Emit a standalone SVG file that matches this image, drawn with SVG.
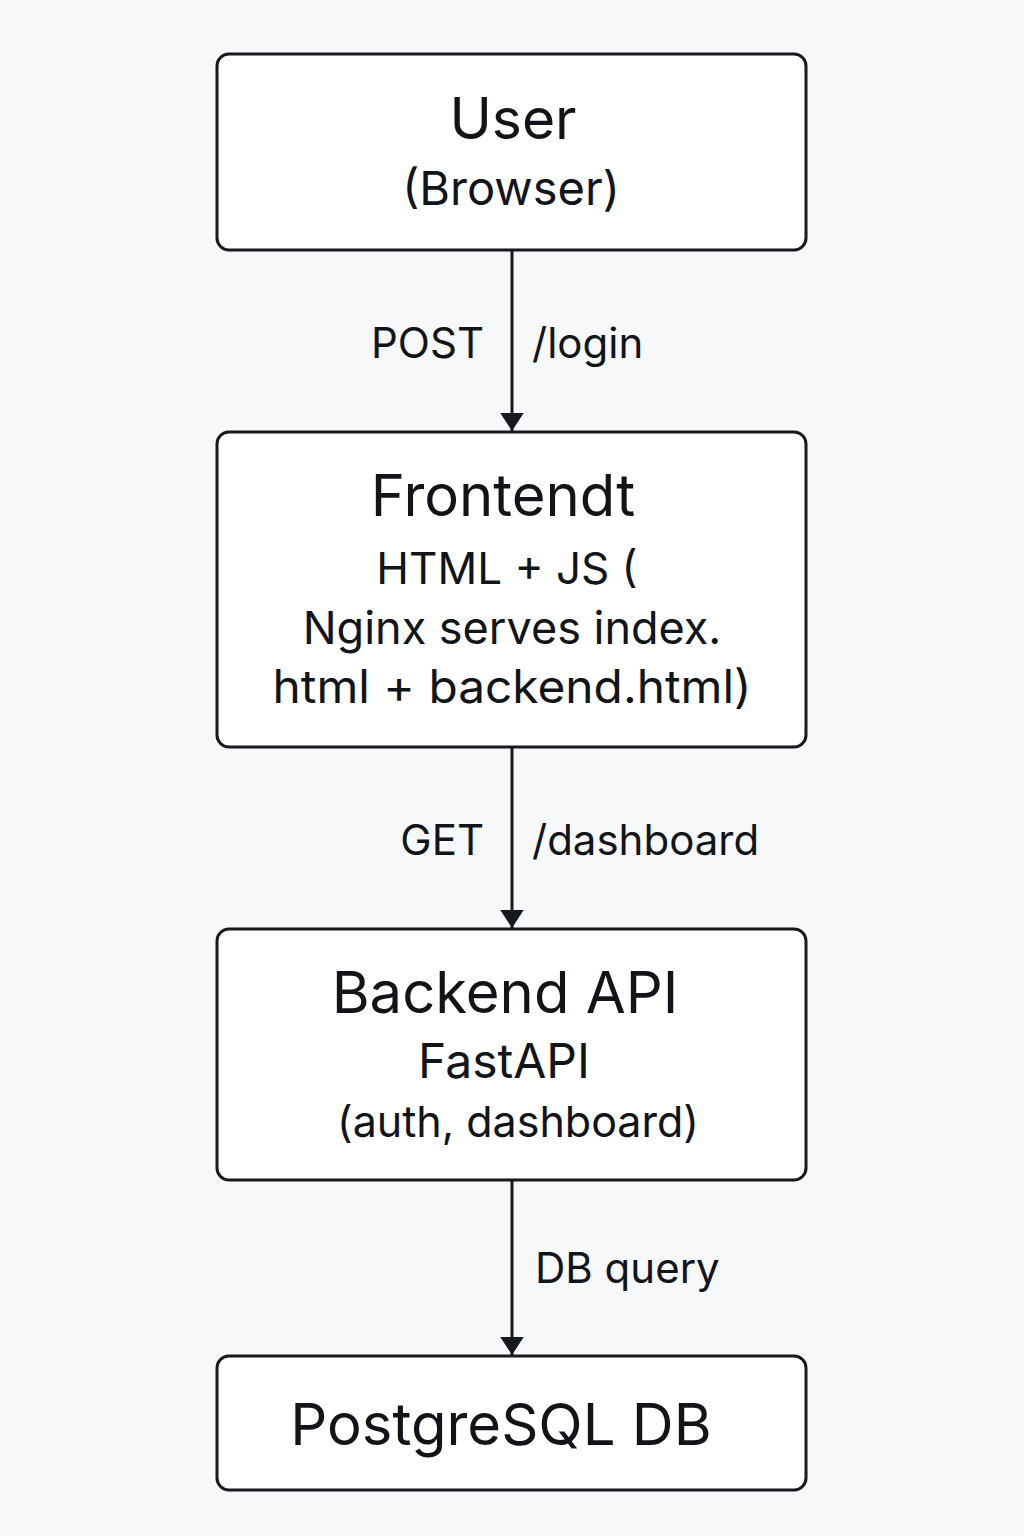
<svg xmlns="http://www.w3.org/2000/svg" width="1024" height="1536" viewBox="0 0 1024 1536">
<style>
.box{fill:#ffffff;stroke:#16191d;stroke-width:3}
.t{font-family:Inter,"Noto Sans","Liberation Sans",sans-serif;fill:#111418;text-anchor:middle}
.lbl{font-family:Inter,"Noto Sans","Liberation Sans",sans-serif;fill:#111418;font-size:42px}
.edge{stroke:#16191d;stroke-width:3;fill:none}
</style>
<defs>
<marker id="ah" markerWidth="6" markerHeight="8" refX="6" refY="3.9" orient="auto" markerUnits="strokeWidth">
<path d="M0,0 L6,3.9 L0,7.8 Z" fill="#16191d"/>
</marker>
</defs>
<rect width="1024" height="1536" fill="#f7f8fa"/>
<g id="connectors">
<line class="edge" x1="512" y1="250" x2="512" y2="431" marker-end="url(#ah)"/>
<line class="edge" x1="512" y1="747" x2="512" y2="928" marker-end="url(#ah)"/>
<line class="edge" x1="512" y1="1180" x2="512" y2="1355" marker-end="url(#ah)"/>
<text class="lbl" x="484" y="358" text-anchor="end" font-size="41">POST</text>
<text class="lbl" x="532" y="358">/login</text>
<text class="lbl" x="484" y="855" text-anchor="end">GET</text>
<text class="lbl" x="532" y="855">/dashboard</text>
<text class="lbl" x="535" y="1283">DB query</text>
</g>
<g id="user">
<rect class="box" x="217" y="54" width="589" height="196" rx="12"/>
<text class="t" x="513" y="139" font-size="57">User</text>
<text class="t" x="511" y="205" font-size="47">(Browser)</text>
</g>
<g id="frontend">
<rect class="box" x="217" y="432" width="589" height="315" rx="12"/>
<text class="t" x="503" y="516" font-size="58">Frontendt</text>
<text class="t" x="507" y="584" font-size="44">HTML + JS (</text>
<text class="t" x="512" y="644" font-size="45">Nginx serves index.</text>
<text class="t" x="512" y="703" font-size="46" textLength="479" lengthAdjust="spacingAndGlyphs">html + backend.html)</text>
</g>
<g id="backend">
<rect class="box" x="217" y="929" width="589" height="251" rx="12"/>
<text class="t" x="505" y="1013" font-size="58">Backend API</text>
<text class="t" x="504" y="1078" font-size="48">FastAPI</text>
<text class="t" x="518" y="1137" font-size="43">(auth, dashboard)</text>
</g>
<g id="postgres">
<rect class="box" x="217" y="1356" width="589" height="134" rx="12"/>
<text class="t" x="501" y="1445" font-size="58">PostgreSQL DB</text>
</g>
</svg>
